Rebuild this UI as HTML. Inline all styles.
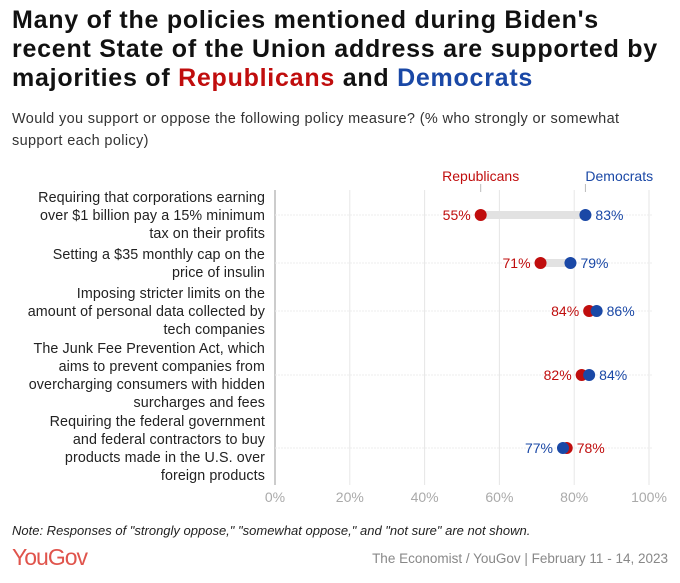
<!DOCTYPE html>
<html><head><meta charset="utf-8"><style>
body{margin:0;width:680px;height:583px;background:#fff;font-family:"Liberation Sans",sans-serif;overflow:hidden;position:relative}
#title{position:absolute;left:12px;top:6px;font-size:25px;font-weight:bold;line-height:29px;color:#111;letter-spacing:0.75px;white-space:nowrap}
#sub{position:absolute;left:12px;top:108px;font-size:14.5px;line-height:22px;color:#333;width:650px;letter-spacing:0.35px}
.r{color:#c00d0d}.d{color:#1a48a6}
#note{position:absolute;left:12px;top:523px;font-size:13px;font-style:italic;color:#222}
#logo{position:absolute;left:12px;top:544px;font-size:23px;color:#e0544c;letter-spacing:-1px}
#src{position:absolute;right:12px;top:551px;font-size:13.5px;color:#888}
svg{position:absolute;left:0;top:0}
</style></head><body>
<div id="title">Many of the policies mentioned during Biden's<br>recent State of the Union address are supported by<br>majorities of <span class="r">Republicans</span> and <span class="d">Democrats</span></div>
<div id="sub">Would you support or oppose the following policy measure? (% who strongly or somewhat support each policy)</div>
<svg id="chart" width="680" height="583"></svg>
<div id="note">Note: Responses of "strongly oppose," "somewhat oppose," and "not sure" are not shown.</div>
<div id="logo">YouGov</div>
<div id="src">The Economist / YouGov | February 11 - 14, 2023</div>
<script>
const categories=[
["Requiring that corporations earning","over $1 billion pay a 15% minimum","tax on their profits"],
["Setting a $35 monthly cap on the","price of insulin"],
["Imposing stricter limits on the","amount of personal data collected by","tech companies"],
["The Junk Fee Prevention Act, which","aims to prevent companies from","overcharging consumers with hidden","surcharges and fees"],
["Requiring the federal government","and federal contractors to buy","products made in the U.S. over","foreign products"]];
const repValues=[55,71,84,82,78];
const demValues=[83,79,86,84,77];
const ticks=[0,20,40,60,80,100];
const rowY=[215,263,311,375,448];
const NS="http://www.w3.org/2000/svg";
const svg=document.getElementById('chart');
const x=v=>275+v*3.74;
function el(t,a,p){const e=document.createElementNS(NS,t);for(const k in a)e.setAttribute(k,a[k]);(p||svg).appendChild(e);return e;}
ticks.forEach(t=>{
 const g=el('line',{x1:x(t),x2:x(t),y1:190,y2:485,stroke:t===0?'#bbb':'#e6e6e6','stroke-width':t===0?1.5:1});
 
 
 const l=el('text',{x:x(t),y:502,'text-anchor':'middle','font-size':14,fill:'#aaa'});
 l.textContent=t+'%';
 
 
});
categories.forEach((c,i)=>{
 const y=rowY[i];
 const gl=el('line',{x1:275,x2:652,y1:y,y2:y,stroke:'#ececec','stroke-dasharray':'2,1'});
 
 
 const n=c.length;
 c.forEach((s,j)=>{
  const t=el('text',{x:265,y:y+5+(j-(n-1)/2)*18,'text-anchor':'end','font-size':14.3,'letter-spacing':0.1,fill:'#222'});
  t.textContent=s;
  
  
 });
 const r=repValues[i],d=demValues[i];
 const bar=el('line',{x1:x(r),x2:x(d),y1:y,y2:y,stroke:'#e2e2e2','stroke-width':8});
 
 
 const rl=el('text',{x:r<=d?x(r)-10:x(r)+10,y:y+5,'text-anchor':r<=d?'end':'start','font-size':14,fill:'#c00d0d'});
 rl.textContent=r+'%';
 
 
 const dl=el('text',{x:d>r?x(d)+10:x(d)-10,y:y+5,'text-anchor':d>r?'start':'end','font-size':14,fill:'#1a48a6'});
 dl.textContent=d+'%';
 
 
 const rc=el('circle',{cx:x(r),cy:y,r:6,fill:'#c00d0d'});
 
 
 const dc=el('circle',{cx:x(d),cy:y,r:6,fill:'#1a48a6'});
 
 
});
const lr=el('text',{x:x(repValues[0]),y:181,'text-anchor':'middle','font-size':14,fill:'#c00d0d'});
lr.textContent='Republicans';


el('line',{x1:x(repValues[0]),x2:x(repValues[0]),y1:184,y2:192,stroke:'#bbb'});
const ld=el('text',{x:x(demValues[0]),y:181,'font-size':14,fill:'#1a48a6'});
ld.textContent='Democrats';


el('line',{x1:x(demValues[0]),x2:x(demValues[0]),y1:184,y2:192,stroke:'#bbb'});
</script>
</body></html>
